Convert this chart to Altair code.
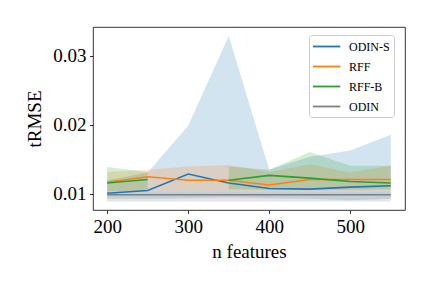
import altair as alt
import pandas as pd

n_features = [200, 250, 300, 350, 400, 450, 500, 550]
series_names = ["ODIN-S", "RFF", "RFF-B", "ODIN"]
series_colors = ["#1f77b4", "#ff7f0e", "#2ca02c", "#7f7f7f"]

odin_s_mean = [0.0101, 0.0105, 0.0129, 0.0116, 0.0108, 0.0107, 0.0110, 0.0112]
odin_s_lo = [0.0093, 0.0093, 0.0094, 0.0095, 0.0094, 0.0093, 0.0091, 0.0093]
odin_s_hi = [0.0120, 0.0131, 0.0199, 0.0329, 0.0135, 0.0154, 0.0163, 0.0186]

rff_mean = [0.0117, 0.0125, 0.0120, 0.0120, 0.0113, 0.0121, 0.0121, 0.0121]
rff_lo = [0.0103, 0.0103, 0.0103, 0.0103, 0.0103, 0.0103, 0.0103, 0.0103]
rff_hi = [0.0132, 0.0135, 0.0140, 0.0142, 0.0132, 0.0143, 0.0131, 0.0141]

rffb_mean = [0.0116, 0.0121, None, 0.0120, 0.0127, 0.0123, 0.0118, 0.0116]
rffb_lo = [0.0104, 0.0104, None, 0.0107, 0.0106, 0.0106, 0.0106, 0.0107]
rffb_hi = [0.0139, 0.0132, None, 0.0140, 0.0135, 0.0161, 0.0141, 0.0141]

odin_mean = [0.0099, 0.0099, 0.0099, 0.0099, 0.0099, 0.0099, 0.0099, 0.0099]
odin_lo = [0.0089, 0.0089, 0.0089, 0.0089, 0.0089, 0.0089, 0.0089, 0.0089]
odin_hi = [0.0103, 0.0103, 0.0103, 0.0103, 0.0103, 0.0103, 0.0103, 0.0103]

x_ticks = [200, 300, 400, 500]
y_ticks = [0.01, 0.02, 0.03]

all_series = [
    ("ODIN-S", odin_s_mean, odin_s_lo, odin_s_hi),
    ("RFF", rff_mean, rff_lo, rff_hi),
    ("RFF-B", rffb_mean, rffb_lo, rffb_hi),
    ("ODIN", odin_mean, odin_lo, odin_hi),
]

rows = []
for name, mean, lo, hi in all_series:
    seg = 0
    for xv, m, l, h in zip(n_features, mean, lo, hi):
        if m is None:
            seg += 1
            continue
        rows.append(dict(n=xv, series=name, seg=f"{name}-{seg}", mean=m, lo=l, hi=h))
df = pd.DataFrame(rows)

FONT = "Liberation Serif"

xscale = alt.Scale(domain=[182.5, 567.5], nice=False, zero=False)
yscale = alt.Scale(domain=[0.00768, 0.0342], nice=False, zero=False)
xaxis = alt.Axis(values=x_ticks, title="n features", grid=False, format="d", titlePadding=6)
yaxis = alt.Axis(values=y_ticks, title="tRMSE", grid=False, format=".2f", titlePadding=8)
cscale = alt.Scale(domain=series_names, range=series_colors)

base = alt.Chart(df)

bands = base.mark_area(fillOpacity=0.2).encode(
    x=alt.X("n:Q", scale=xscale, axis=xaxis),
    y=alt.Y("lo:Q", scale=yscale, axis=yaxis),
    y2="hi:Q",
    fill=alt.Fill("series:N", scale=cscale, legend=None),
    detail="seg:N",
)

lines = base.mark_line(strokeWidth=1.6).encode(
    x=alt.X("n:Q", scale=xscale, axis=xaxis),
    y=alt.Y("mean:Q", scale=yscale, axis=yaxis),
    color=alt.Color(
        "series:N",
        scale=cscale,
        sort=series_names,
        legend=alt.Legend(
            title=None,
            orient="none",
            legendX=216,
            legendY=8,
            symbolType="M-1.15,0H3.05",
            symbolSize=169,
            symbolStrokeWidth=1.8,
            labelFont=FONT,
            labelFontSize=12,
            labelFontWeight="normal",
            labelColor="black",
            rowPadding=6,
            padding=4,
            strokeColor="#cccccc",
            cornerRadius=3,
            fillColor="white",
            labelOffset=21,
        ),
    ),
    detail="seg:N",
)

chart = (
    alt.layer(bands, lines)
    .resolve_legend(color="independent", fill="independent")
    .properties(
        width=312,
        height=183,
        autosize=alt.AutoSizeParams(type="none"),
        padding={"left": 85, "top": 19, "right": 19, "bottom": 70},
    )
    .configure_view(stroke="black", strokeWidth=0.8)
    .configure_axis(
        labelFont=FONT,
        titleFont=FONT,
        labelFontSize=19,
        titleFontSize=19,
        titleFontWeight="normal",
        labelColor="black",
        titleColor="black",
        tickColor="black",
        tickSize=3.5,
        tickWidth=0.8,
        labelPadding=3.5,
        domain=False,
    )
)

chart.save("out.html", embed_options={"renderer": "svg", "actions": False})
